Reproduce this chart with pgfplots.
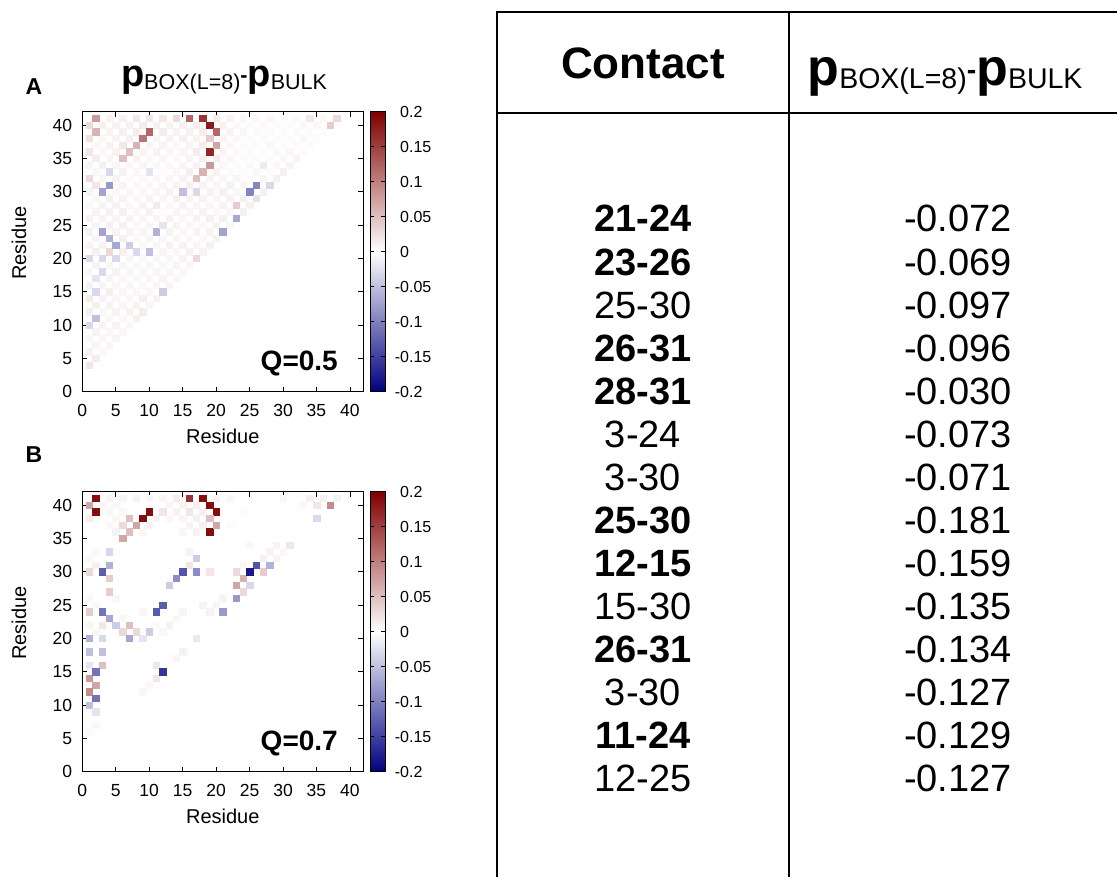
\documentclass[border=0pt]{standalone}
\usepackage{fontspec}
\setmainfont{Liberation Sans}
\usepackage{pgfplots}
\pgfplotsset{compat=1.18}
\definecolor{cbblue}{RGB}{0,0,128}
\definecolor{cbred}{RGB}{128,0,0}
\newcommand{\fs}[1]{\fontsize{#1}{#1}\selectfont}
\newcommand{\pexpr}[4]{{\fs{#1}\bfseries p}\raisebox{-#3pt}{\fs{#2}BOX(L=8)}\raisebox{#4pt}{\fs{#2}\bfseries -}{\fs{#1}\bfseries p}\raisebox{-#3pt}{\fs{#2}BULK}}

\pgfplotsset{
  hm/.style={
    scale only axis, width=281pt, height=280pt,
    xmin=0, xmax=42, ymin=0, ymax=42,
    xtick={0,5,...,40}, ytick={0,5,...,40},
    tick align=inside, tick pos=both, ticklabel pos=left,
    major tick length=5pt,
    every tick/.style={black, line width=0.6pt},
    axis line style={black, line width=0.8pt},
    axis on top,
    /pgf/number format/assume math mode=true,
    xticklabel style={font=\fs{17.5}, inner sep=0pt, yshift=-12.5pt},
    yticklabel style={font=\fs{17.5}, inner sep=0pt, xshift=-10pt},
    xlabel={Residue}, ylabel={Residue},
    xlabel style={font=\fs{20}, at={(axis description cs:0.5,0)}, anchor=base, yshift=-52pt},
    ylabel style={font=\fs{20}, at={(axis description cs:-0.2,0.53)}, anchor=base},
    point meta min=-0.2, point meta max=0.2,
    colormap={bwr}{rgb255(0cm)=(0,0,128); rgb255(1cm)=(255,255,255); rgb255(2cm)=(128,0,0)},
  },
  cbar/.style={
    scale only axis, width=15pt, height=280pt,
    xmin=0, xmax=1, ymin=-0.2, ymax=0.2,
    xtick=\empty,
    ytick={-0.2,-0.15,-0.1,-0.05,0,0.05,0.1,0.15,0.2},
    yticklabels={\llap{-}0.2,\llap{-}0.15,\llap{-}0.1,\llap{-}0.05,0,0.05,0.1,0.15,0.2},
    yticklabel style={font=\fs{16}, inner sep=0pt, anchor=west, xshift=15pt},
    tick align=inside, ytick pos=both, yticklabel pos=right,
    major tick length=4pt,
    every tick/.style={black, line width=0.5pt},
    axis line style={black, line width=0.8pt},
    axis on top,
  },
  cells/.style={scatter, only marks, mark=square*, mark size=3.2pt, point meta=explicit,
    scatter/use mapped color={draw=mapped color, fill=mapped color}, line width=0.2pt},
}

\begin{document}
\begin{tikzpicture}
\path[use as bounding box] (0pt,0pt) rectangle (1117pt,877pt);

% ================= Panel A =================
\begin{axis}[hm, at={(82.3pt,485.3pt)}, anchor=south west]
% faint background contacts
\addplot[cells] coordinates {
(2,41) [0.01] (4,41) [0.01] (6,41) [0.012] (8,41) [0.02] (10,41) [0.02] (12,41) [0.02] (14,41) [0.025] (16,41) [0.01] (18,41) [0.01] (20,41) [0.015] (22,41) [0.01] (24,41) [0.006] (26,41) [0.006] (28,41) [0.006] (30,41) [0.004] (32,41) [0.004] (34,41) [0.02] (36,41) [0.006] (38,41) [0.01]
(1,40) [0.03] (3,40) [0.012] (5,40) [0.01] (7,40) [0.012] (9,40) [0.015] (11,40) [0.012] (13,40) [0.01] (15,40) [0.012] (17,40) [0.015] (19,40) [0.01] (21,40) [0.01] (23,40) [0.006] (25,40) [0.004] (27,40) [0.006] (29,40) [0.004] (31,40) [0.004] (33,40) [0.006] (35,40) [0.006] (37,40) [0.01]
(2,39) [0.01] (4,39) [0.008] (6,39) [0.012] (8,39) [0.015] (10,39) [0.01] (12,39) [0.015] (14,39) [0.01] (16,39) [0.012] (18,39) [0.015] (20,39) [0.01] (22,39) [0.008] (24,39) [0.006] (26,39) [0.004] (28,39) [0.004] (30,39) [0.004] (32,39) [-0.004] (34,39) [0.004] (36,39) [0.004]
(1,38) [0.025] (3,38) [0.006] (5,38) [0.01] (7,38) [0.012] (9,38) [0.01] (11,38) [0.008] (13,38) [0.01] (15,38) [0.012] (17,38) [0.01] (19,38) [0.01] (21,38) [0.008] (23,38) [0.006] (25,38) [0.004] (27,38) [0.004] (29,38) [0.004] (31,38) [0.004] (33,38) [0.006] (35,38) [0.004]
(2,37) [0.006] (4,37) [0.01] (6,37) [0.02] (8,37) [0.01] (10,37) [0.008] (12,37) [0.01] (14,37) [0.006] (16,37) [0.01] (18,37) [0.015] (20,37) [0.01] (22,37) [0.006] (24,37) [0.004] (26,37) [0.004] (28,37) [0.006] (30,37) [0.004] (32,37) [0.004] (34,37) [0.004]
(1,36) [0.02] (3,36) [0.006] (5,36) [0.01] (7,36) [0.01] (9,36) [0.008] (11,36) [0.01] (13,36) [0.006] (15,36) [0.008] (17,36) [0.015] (19,36) [0.01] (21,36) [0.008] (23,36) [0.006] (25,36) [0.004] (27,36) [0.004] (29,36) [0.006] (31,36) [0.006] (33,36) [0.004]
(2,35) [0.015] (4,35) [0.008] (6,35) [0.01] (8,35) [0.01] (10,35) [0.006] (12,35) [0.008] (14,35) [0.006] (16,35) [0.01] (18,35) [0.012] (20,35) [0.015] (22,35) [0.006] (24,35) [0.004] (26,35) [0.004] (28,35) [0.004] (30,35) [0.006] (32,35) [0.01]
(1,34) [0.008] (3,34) [0.012] (5,34) [0.008] (7,34) [0.006] (9,34) [0.008] (11,34) [0.006] (13,34) [0.006] (15,34) [0.008] (17,34) [0.01] (19,34) [0.01] (21,34) [0.006] (23,34) [0.004] (25,34) [-0.004] (27,34) [-0.01] (29,34) [0.006] (31,34) [0.01]
(2,33) [0.006] (4,33) [0.01] (6,33) [0.01] (8,33) [0.006] (10,33) [0.008] (12,33) [0.004] (14,33) [0.006] (16,33) [0.012] (18,33) [0.01] (20,33) [0.01] (22,33) [0.004] (24,33) [0.004] (26,33) [0.006] (28,33) [0.004] (30,33) [0.012]
(1,32) [0.02] (3,32) [0.006] (5,32) [0.01] (7,32) [0.004] (9,32) [0.006] (11,32) [0.006] (13,32) [0.008] (15,32) [0.01] (17,32) [0.01] (19,32) [0.008] (21,32) [0.006] (23,32) [-0.008] (25,32) [0.004] (27,32) [0.008] (29,32) [0.012]
(2,31) [0.015] (4,31) [0.01] (6,31) [0.01] (8,31) [0.006] (10,31) [0.006] (12,31) [0.008] (14,31) [0.01] (16,31) [0.012] (18,31) [0.01] (20,31) [0.008] (22,31) [0.012] (24,31) [0.008] (26,31) [0.01] (28,31) [0.01]
(1,30) [0.008] (3,30) [0.01] (5,30) [0.006] (7,30) [0.006] (9,30) [0.006] (11,30) [0.008] (13,30) [0.01] (15,30) [0.01] (17,30) [0.01] (19,30) [0.01] (21,30) [0.012] (23,30) [0.006] (25,30) [0.01] (27,30) [0.012]
(2,29) [0.006] (4,29) [0.012] (6,29) [0.01] (8,29) [0.006] (10,29) [0.01] (12,29) [0.008] (14,29) [0.012] (16,29) [0.01] (18,29) [0.01] (20,29) [0.008] (22,29) [0.01] (24,29) [0.012] (26,29) [0.01]
(1,28) [0.006] (3,28) [0.01] (5,28) [0.01] (7,28) [0.006] (9,28) [0.01] (11,28) [0.008] (13,28) [0.006] (15,28) [0.01] (17,28) [0.008] (19,28) [0.006] (21,28) [0.01] (23,28) [0.02] (25,28) [0.012]
(2,27) [0.01] (4,27) [0.01] (6,27) [0.012] (8,27) [0.006] (10,27) [0.01] (12,27) [0.004] (14,27) [0.008] (16,27) [0.006] (18,27) [0.01] (20,27) [0.006] (22,27) [0.006] (24,27) [0.012]
(1,26) [0.012] (3,26) [0.01] (5,26) [0.008] (7,26) [0.01] (9,26) [-0.006] (11,26) [0.008] (13,26) [0.012] (15,26) [0.006] (17,26) [0.01] (19,26) [0.012] (21,26) [0.012] (23,26) [0.01]
(2,25) [0.008] (4,25) [0.012] (6,25) [0.012] (8,25) [0.006] (10,25) [0.008] (12,25) [0.006] (14,25) [0.01] (16,25) [0.008] (18,25) [0.006] (20,25) [0.01] (22,25) [0.006]
(1,24) [0.01] (3,24) [0.006] (5,24) [0.01] (7,24) [0.01] (9,24) [0.008] (11,24) [0.01] (13,24) [0.01] (15,24) [0.006] (17,24) [0.01] (19,24) [0.01] (21,24) [0.01]
(2,23) [0.008] (4,23) [0.01] (6,23) [0.012] (8,23) [0.006] (10,23) [0.008] (12,23) [-0.006] (14,23) [0.008] (16,23) [0.006] (18,23) [0.006] (20,23) [0.012]
(1,22) [0.01] (3,22) [0.01] (5,22) [0.015] (7,22) [0.01] (9,22) [0.006] (11,22) [0.008] (13,22) [0.012] (15,22) [0.01] (17,22) [0.008] (19,22) [0.012]
(2,21) [0.012] (4,21) [0.03] (6,21) [0.012] (8,21) [0.006] (10,21) [0.01] (12,21) [0.008] (14,21) [0.006] (16,21) [0.01] (18,21) [0.01]
(1,20) [0.01] (3,20) [0.01] (5,20) [0.008] (7,20) [-0.006] (9,20) [0.006] (11,20) [0.006] (13,20) [0.006] (15,20) [0.01] (17,20) [0.03]
(2,19) [0.01] (4,19) [0.008] (6,19) [0.008] (8,19) [0.006] (10,19) [-0.006] (12,19) [0.006] (14,19) [0.01] (16,19) [0.008]
(1,18) [0.006] (3,18) [0.01] (5,18) [0.01] (7,18) [0.006] (9,18) [0.006] (11,18) [0.008] (13,18) [-0.006] (15,18) [0.006]
(2,17) [0.006] (4,17) [0.01] (6,17) [0.006] (8,17) [0.006] (10,17) [0.008] (12,17) [0.01] (14,17) [0.006]
(1,16) [-0.01] (3,16) [0.008] (5,16) [0.006] (7,16) [-0.006] (9,16) [0.006] (11,16) [-0.006] (13,16) [0.008]
(2,15) [0.01] (4,15) [0.012] (6,15) [0.006] (8,15) [0.006] (10,15) [0.006] (12,15) [0.01]
(1,14) [0.015] (3,14) [0.01] (5,14) [0.006] (7,14) [0.006] (9,14) [0.012] (11,14) [0.01]
(2,13) [0.012] (4,13) [0.01] (6,13) [0.008] (8,13) [0.01] (10,13) [0.008]
(1,12) [0.012] (3,12) [0.006] (5,12) [0.01] (7,12) [0.01] (9,12) [0.015]
(2,11) [0.01] (4,11) [0.006] (6,11) [0.006] (8,11) [0.012]
(1,10) [0.01] (3,10) [0.01] (5,10) [0.01] (7,10) [0.006]
(2,9) [0.01] (4,9) [0.006] (6,9) [0.006]
(1,8) [0.006] (3,8) [0.006] (5,8) [0.008]
(2,7) [0.008] (4,7) [0.008]
(1,6) [0.01] (3,6) [0.006]
(2,5) [0.015]
(1,4) [0.02]
};
% main contacts
\addplot[cells] coordinates {
(2,41) [0.08] (16,41) [0.12] (18,41) [0.16] (19,40) [0.18] (20,39) [0.12] (10,39) [0.12] (9,38) [0.11]
(8,37) [0.06] (7,36) [0.05] (6,35) [0.05] (2,39) [0.06] (1,40) [0.03] (19,36) [0.17] (20,37) [0.07]
(19,38) [0.04] (19,34) [0.08] (18,33) [0.06] (17,32) [0.05] (37,40) [0.04] (38,41) [0.03] (34,41) [0.02]
(14,41) [0.03] (12,41) [0.02] (10,41) [0.02] (8,41) [0.02] (1,32) [0.03] (2,31) [0.02] (23,28) [0.04]
(17,20) [0.03] (4,21) [0.03]
(4,31) [-0.08] (3,30) [-0.071] (4,33) [-0.03] (15,30) [-0.05] (17,30) [-0.03] (26,31) [-0.096]
(25,30) [-0.097] (28,31) [-0.030] (26,29) [-0.02] (23,26) [-0.069] (21,24) [-0.072] (3,24) [-0.073]
(4,23) [-0.06] (5,22) [-0.07] (7,22) [-0.04] (8,21) [-0.03] (10,21) [-0.05] (11,24) [-0.06]
(1,20) [-0.03] (3,20) [-0.03] (5,20) [-0.03] (3,18) [-0.03] (2,17) [-0.02] (2,15) [-0.03]
(12,15) [-0.04] (2,11) [-0.05] (1,10) [-0.03] (10,33) [-0.02] (12,25) [-0.02] (11,28) [-0.015] (27,34) [-0.015]
};
\end{axis}
\begin{axis}[cbar, at={(370pt,485.3pt)}, anchor=south west]
\shade[bottom color=cbblue, top color=cbred, middle color=white] (axis cs:0,-0.2) rectangle (axis cs:1,0.2);
\end{axis}

% ================= Panel B =================
\begin{axis}[hm, at={(82.3pt,105.3pt)}, anchor=south west]
% faint background contacts
\addplot[cells] coordinates {
(4,41) [0.01] (6,41) [0.008] (8,41) [0.01] (10,41) [0.008] (12,41) [0.008] (14,41) [0.015] (20,41) [0.01] (22,41) [0.006] (30,41) [0.006] (34,41) [0.012] (36,41) [0.012]
(3,40) [0.008] (5,40) [0.006] (13,40) [0.008] (15,40) [0.01] (17,40) [0.012] (33,40) [0.006]
(4,39) [0.006] (6,39) [0.006] (14,39) [0.01] (18,39) [0.012] (24,39) [0.004]
(1,38) [0.015] (5,38) [0.006] (11,38) [0.01] (13,38) [0.006] (15,38) [0.008] (17,38) [0.012]
(4,37) [0.006] (10,37) [0.01] (16,37) [0.01] (18,37) [0.012] (22,37) [0.004]
(5,36) [-0.01] (9,36) [0.006] (15,36) [0.006] (17,36) [0.01]
(25,34) [0.006] (29,34) [0.01]
(2,33) [0.006] (16,33) [0.01] (28,33) [0.01] (30,33) [0.006]
(1,32) [0.006] (27,32) [0.012] (29,32) [0.01]
(2,31) [0.012] (24,31) [0.006] (26,31) [0.01]
(1,26) [0.006] (21,26) [0.01] (5,26) [0.006]
(2,25) [0.006] (18,25) [0.01] (20,25) [0.008]
(9,24) [0.006] (15,24) [0.008] (19,24) [0.01]
(6,23) [0.006] (14,23) [0.006]
(1,22) [0.008] (11,22) [0.006] (13,22) [-0.01]
(2,21) [0.006] (12,21) [0.006]
(15,18) [0.01] (14,17) [0.008] (10,13) [0.006] (9,12) [0.006]
(2,7) [0.006] (1,6) [0.004]
};
% main contacts
\addplot[cells] coordinates {
(2,41) [0.19] (1,40) [0.07] (2,39) [0.19] (16,41) [0.16] (18,41) [0.19] (19,40) [0.19] (20,39) [0.19]
(10,39) [0.19] (9,38) [0.19] (8,37) [0.07] (7,38) [0.05] (7,36) [0.05] (6,35) [0.07] (19,36) [0.19]
(19,38) [0.05] (20,37) [0.07] (6,37) [0.03] (37,40) [0.09] (35,40) [0.02] (12,39) [0.02] (16,39) [0.02]
(1,30) [0.03] (4,29) [0.04] (4,27) [0.04] (1,24) [0.04] (3,22) [0.02] (7,22) [0.05] (6,21) [0.03]
(8,21) [0.03] (16,31) [0.02] (19,30) [0.02] (23,30) [0.03] (27,30) [0.04] (24,29) [0.06] (23,28) [0.07]
(24,27) [0.03] (3,16) [0.05] (1,14) [0.08] (2,13) [0.07] (1,12) [0.09] (31,34) [0.02] (11,16) [0.02]
(11,14) [0.02] (17,20) [0.02]
(4,31) [-0.06] (3,30) [-0.127] (4,33) [-0.03] (15,30) [-0.135] (17,30) [-0.09] (17,32) [-0.04]
(14,29) [-0.09] (13,28) [-0.04] (26,31) [-0.134] (28,31) [-0.06] (25,30) [-0.181] (25,28) [-0.03]
(23,26) [-0.08] (21,24) [-0.08] (12,25) [-0.127] (11,24) [-0.129] (3,24) [-0.11] (4,23) [-0.07]
(5,22) [-0.04] (10,21) [-0.04] (1,20) [-0.06] (3,20) [-0.03] (7,20) [-0.07] (9,20) [-0.02]
(1,18) [-0.05] (3,18) [-0.05] (1,16) [-0.02] (2,15) [-0.11] (12,15) [-0.159] (2,11) [-0.11]
(1,10) [-0.05] (2,9) [-0.02] (35,38) [-0.03] (38,41) [-0.01]
};
\end{axis}
\begin{axis}[cbar, at={(370pt,105.3pt)}, anchor=south west]
\shade[bottom color=cbblue, top color=cbred, middle color=white] (axis cs:0,-0.2) rectangle (axis cs:1,0.2);
\end{axis}

\node[anchor=base, font=\fs{23}\bfseries] at (34pt,782pt) {A};
\node[anchor=base, font=\fs{23}\bfseries] at (34pt,414pt) {B};
\node[anchor=base, inner sep=0pt] at (224pt,790pt) {\pexpr{38}{21.5}{3}{4}};
\node[anchor=base east, inner sep=0pt, font=\fs{28}\bfseries] at (338pt,506pt) {Q=0.5};
\node[anchor=base east, inner sep=0pt, font=\fs{28}\bfseries] at (338pt,126pt) {Q=0.7};

% Table
\draw[line width=2pt] (497pt,0pt) -- (497pt,865pt);
\draw[line width=2pt] (789pt,0pt) -- (789pt,865pt);
\draw[line width=2pt] (496pt,865pt) -- (1117pt,865pt);
\draw[line width=2pt] (496pt,764pt) -- (1117pt,764pt);
\node[anchor=base, inner sep=0pt, font=\fs{44}\bfseries] at (643pt,798pt) {Contact};
\node[anchor=base, inner sep=0pt] at (945pt,791pt) {\pexpr{52}{28.5}{3}{6}};

\begin{scope}[every node/.style={anchor=base, inner sep=0pt, font=\fs{38}}]
\node at (643pt,645pt) {\bfseries 21-24};    \node at (958pt,645pt) {-0.072};
\node at (643pt,601.9pt) {\bfseries 23-26};  \node at (958pt,601.9pt) {-0.069};
\node at (643pt,558.8pt) {25-30};            \node at (958pt,558.8pt) {-0.097};
\node at (643pt,515.8pt) {\bfseries 26-31};  \node at (958pt,515.8pt) {-0.096};
\node at (643pt,472.7pt) {\bfseries 28-31};  \node at (958pt,472.7pt) {-0.030};
\node at (643pt,429.6pt) {3-24};             \node at (958pt,429.6pt) {-0.073};
\node at (643pt,386.5pt) {3-30};             \node at (958pt,386.5pt) {-0.071};
\node at (643pt,343.4pt) {\bfseries 25-30};  \node at (958pt,343.4pt) {-0.181};
\node at (643pt,300.4pt) {\bfseries 12-15};  \node at (958pt,300.4pt) {-0.159};
\node at (643pt,257.3pt) {15-30};            \node at (958pt,257.3pt) {-0.135};
\node at (643pt,214.2pt) {\bfseries 26-31};  \node at (958pt,214.2pt) {-0.134};
\node at (643pt,171.1pt) {3-30};             \node at (958pt,171.1pt) {-0.127};
\node at (643pt,128.0pt) {\bfseries 11-24};  \node at (958pt,128.0pt) {-0.129};
\node at (643pt,85.0pt) {12-25};             \node at (958pt,85.0pt) {-0.127};
\end{scope}
\end{tikzpicture}
\end{document}
